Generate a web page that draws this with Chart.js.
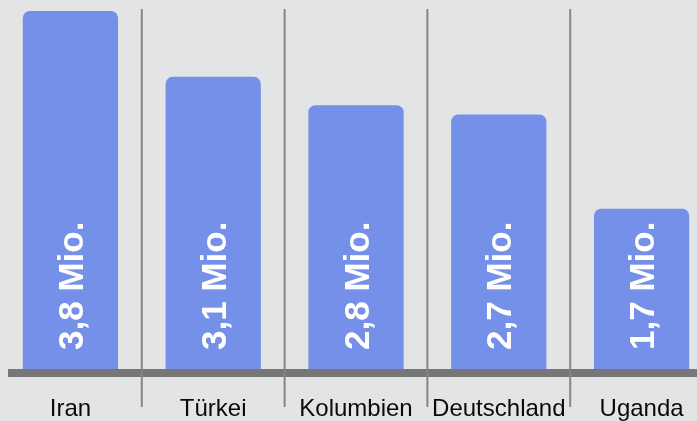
<!DOCTYPE html>
<html>
<head>
<meta charset="utf-8">
<script src="https://cdn.jsdelivr.net/npm/chart.js@4/dist/chart.umd.min.js"></script>
<style>
  html, body { margin: 0; padding: 0; background: #e3e4e6; overflow: hidden; }
  #wrap { position: absolute; left: -1px; top: 0; width: 714px; height: 421px; }
</style>
</head>
<body>
<div id="wrap"><canvas id="chart"></canvas></div>
<script>
const countries = ['Iran', 'Türkei', 'Kolumbien', 'Deutschland', 'Uganda'];
const millions = [3.8, 3.1, 2.8, 2.7, 1.7];
const axisMax = 3.82;

const FONT = "'Liberation Sans', Arial, Helvetica, sans-serif";

// dividers between categories, thick baseline, rotated value labels
const decorations = {
  id: 'decorations',
  afterDatasetsDraw(chart) {
    const { ctx, chartArea } = chart;
    const x = chart.scales.x;
    const bottom = chartArea.bottom;

    ctx.save();
    ctx.fillStyle = '#777777';
    ctx.fillRect(9, bottom, chart.width, 8);

    ctx.strokeStyle = '#858585';
    ctx.lineWidth = 2;
    for (let i = 0; i < countries.length - 1; i++) {
      const px = (x.getPixelForValue(i) + x.getPixelForValue(i + 1)) / 2;
      ctx.beginPath();
      ctx.moveTo(px, chartArea.top);
      ctx.lineTo(px, 407);
      ctx.stroke();
    }

    const meta = chart.getDatasetMeta(0);
    ctx.fillStyle = '#ffffff';
    ctx.font = 'bold 35px ' + FONT;
    ctx.textAlign = 'left';
    ctx.textBaseline = 'alphabetic';
    meta.data.forEach((bar, i) => {
      const label = millions[i].toFixed(1).replace('.', ',') + ' Mio.';
      ctx.save();
      ctx.translate(bar.x, bottom - 19);
      ctx.rotate(-Math.PI / 2);
      ctx.fillText(label, 0, 12.5);
      ctx.restore();
    });
    ctx.restore();
  }
};

new Chart(document.getElementById('chart'), {
  type: 'bar',
  data: {
    labels: countries,
    datasets: [{
      data: millions,
      backgroundColor: '#7590e8',
      borderRadius: { topLeft: 7, topRight: 7 },
      borderSkipped: 'start',
      categoryPercentage: 1,
      barPercentage: 0.667
    }]
  },
  options: {
    responsive: true,
    maintainAspectRatio: false,
    animation: false,
    layout: { padding: { top: 9, left: 0, right: 0, bottom: 0 } },
    plugins: {
      legend: { display: false },
      tooltip: { enabled: false }
    },
    scales: {
      x: {
        grid: { display: false, drawTicks: false },
        border: { display: false },
        ticks: {
          color: '#0a0a0a',
          font: { family: FONT, size: 24 },
          padding: 26,
          maxRotation: 0,
          autoSkip: false
        },
        afterFit(scale) { scale.height = 52; }
      },
      y: {
        display: false,
        min: 0,
        max: axisMax
      }
    }
  },
  plugins: [decorations]
});
</script>
</body>
</html>
